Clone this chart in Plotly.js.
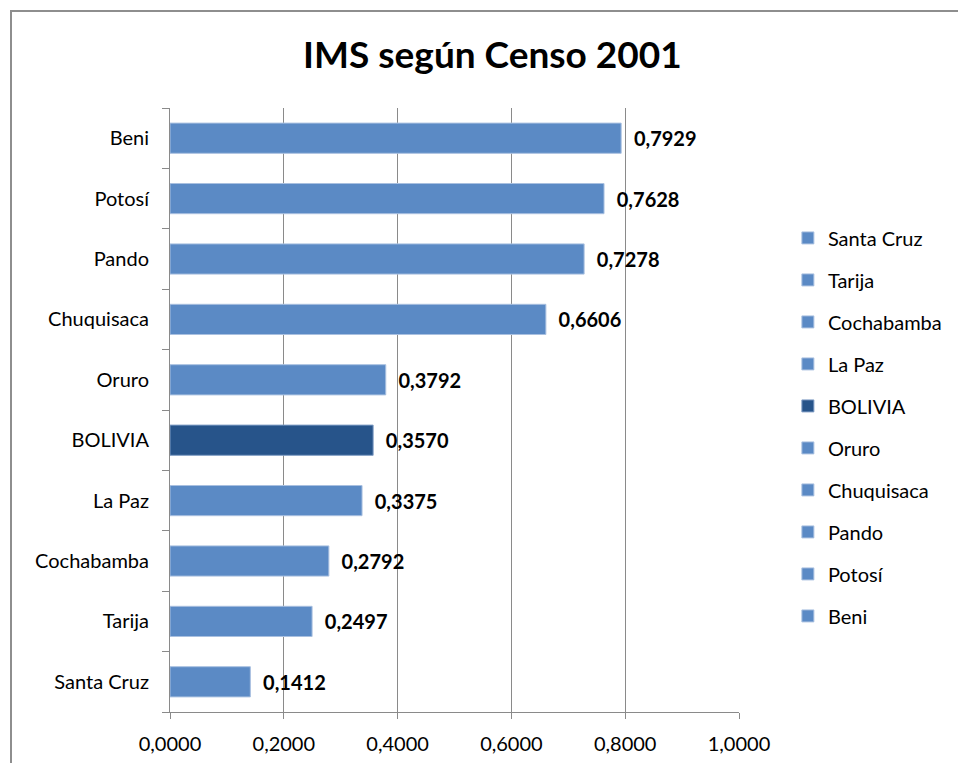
<!DOCTYPE html>
<html>
<head>
<meta charset="utf-8">
<script src="https://cdn.plot.ly/plotly-3.0.1.min.js"></script>
<style>
  html, body { margin: 0; padding: 0; background: #ffffff; overflow: hidden; }
  #frame { position: absolute; left: 10px; top: 10px; width: 1000px; height: 800px; border-left: 2px solid #8e8e8e; border-top: 2px solid #8e8e8e; }
  #chart { position: absolute; left: 0; top: 0; width: 958px; height: 763px; }
</style>
</head>
<body>
<div id="frame"></div>
<div id="chart"></div>
<script>
const categories = ["Santa Cruz", "Tarija", "Cochabamba", "La Paz", "BOLIVIA", "Oruro", "Chuquisaca", "Pando", "Potosí", "Beni"];
const values = [0.1412, 0.2497, 0.2792, 0.3375, 0.3570, 0.3792, 0.6606, 0.7278, 0.7628, 0.7929];
const xTicks = [0, 0.2, 0.4, 0.6, 0.8, 1.0];
const lightBlue = "#5b8ac5";
const darkBlue = "#27548a";
const fontFam = "Lato, 'Open Sans', sans-serif";

const traces = categories.map((c, i) => ({
  type: "bar",
  orientation: "h",
  name: c,
  legendgroup: c,
  y: [c],
  x: [values[i]],
  marker: {
    color: c === "BOLIVIA" ? darkBlue : lightBlue,
    line: { color: c === "BOLIVIA" ? "#7f9cc4" : "#a9c0e0", width: 1 }
  },
  texttemplate: "  %{x:.4f}",
  textposition: "outside",
  cliponaxis: false,
  textfont: { family: fontFam, size: 20, color: "#000000", weight: "bold" },
  hoverinfo: "skip"
}));

const layout = {
  width: 958,
  height: 763,
  paper_bgcolor: "rgba(0,0,0,0)",
  plot_bgcolor: "rgba(0,0,0,0)",
  separators: ",.",
  font: { family: fontFam, size: 21, color: "#000000" },
  title: {
    text: "<b>IMS según Censo 2001</b>",
    font: { family: fontFam, size: 37, color: "#000000" },
    x: 0.514, xanchor: "center",
    y: 0.928, yanchor: "middle"
  },
  margin: { l: 170, r: 218, t: 108, b: 51 },
  barmode: "overlay",
  bargap: 0.5,
  showlegend: true,
  legend: {
    x: 1.084, xanchor: "left",
    y: 0.472, yanchor: "middle",
    traceorder: "grouped",
    tracegroupgap: 13,
    font: { family: fontFam, size: 20, color: "#000000" },
    itemwidth: 30
  },
  xaxis: {
    range: [0, 1],
    tickvals: xTicks,
    tickformat: ".4f",
    showgrid: true,
    gridcolor: "#8a8a8a",
    gridwidth: 1,
    zeroline: false,
    showline: true,
    linecolor: "#8a8a8a",
    ticks: "outside",
    ticklen: 6,
    tickcolor: "#8a8a8a",
    ticklabelstandoff: 8,
    tickfont: { size: 20 },
    fixedrange: true
  },
  yaxis: {
    type: "category",
    categoryorder: "array",
    categoryarray: categories,
    tickson: "boundaries",
    ticks: "outside",
    ticklen: 7,
    tickcolor: "#8a8a8a",
    showgrid: false,
    showline: true,
    linecolor: "#8a8a8a",
    ticklabelstandoff: 16,
    tickfont: { size: 20 },
    fixedrange: true
  }
};

Plotly.newPlot("chart", traces, layout, { displayModeBar: false, staticPlot: true });
</script>
</body>
</html>
